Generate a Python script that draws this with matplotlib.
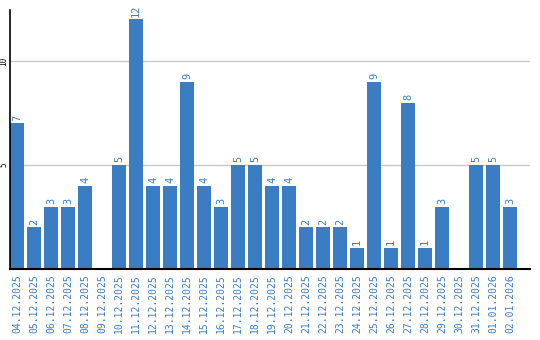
import matplotlib
matplotlib.use("Agg")
import matplotlib.pyplot as plt

DATES=["04.12.2025","05.12.2025","06.12.2025","07.12.2025","08.12.2025","09.12.2025",
	"10.12.2025","11.12.2025","12.12.2025","13.12.2025","14.12.2025","15.12.2025",
	"16.12.2025","17.12.2025","18.12.2025","19.12.2025","20.12.2025","21.12.2025",
	"22.12.2025","23.12.2025","24.12.2025","25.12.2025","26.12.2025","27.12.2025",
	"28.12.2025","29.12.2025","30.12.2025","31.12.2025","01.01.2026","02.01.2026"]
COUNTS=[7,2,3,3,4,0,5,12,4,4,9,4,3,5,5,4,4,2,2,2,1,9,1,8,1,3,0,5,5,3]
YTICKS=[5,10]

BLUE="#3b7dc3"
FONT="DejaVu Sans Mono"

W,H=540,340
fig=plt.figure(figsize=(W/100,H/100),dpi=100)
ax=fig.add_axes([10/W,(H-269)/H,520/W,259/H])
x=list(range(len(COUNTS)))
ax.bar(x,COUNTS,width=0.82,color=BLUE,zorder=2)
for i,v in enumerate(COUNTS):
	if v:
		ax.annotate(str(v),(i,v),xytext=(0,2),textcoords="offset points",rotation=90,
			ha="center",va="bottom",color=BLUE,fontsize=7.5,family=FONT)
ax.set_xlim(-0.41,30.18)
ax.set_ylim(0,12.45)
ax.set_yticks(YTICKS)
ax.set_yticklabels([str(t) for t in YTICKS],rotation=90,va="center",fontsize=5.5,family=FONT)
ax.set_xticks(x)
ax.set_xticklabels(DATES,rotation=90,color=BLUE,fontsize=7,family=FONT)
ax.tick_params(axis="x",length=0,pad=4)
ax.tick_params(axis="y",length=0,pad=1)
ax.grid(axis="y",color="#c8c8c8",linewidth=1,zorder=0)
for s in ("top","right"):
	ax.spines[s].set_visible(False)
ax.spines["left"].set_linewidth(1.2)
ax.spines["bottom"].set_linewidth(1.5)
fig.savefig("out.png",dpi=100)
